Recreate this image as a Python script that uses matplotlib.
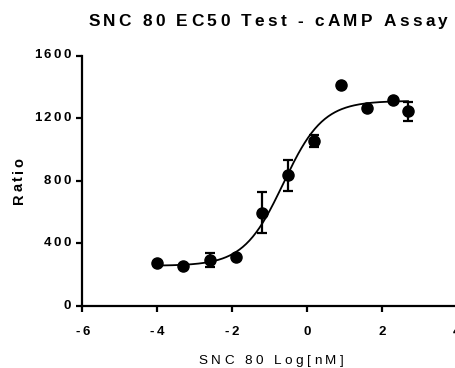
import matplotlib
matplotlib.use('Agg')
import matplotlib.pyplot as plt
import numpy as np
from matplotlib.font_manager import FontProperties
from matplotlib.transforms import IdentityTransform

# data
log_conc = [-4.0, -3.3, -2.6, -1.9, -1.2, -0.5, 0.2, 0.9, 1.6, 2.3, 2.7]
ratio = [274, 253, 292, 314, 596, 835, 1056, 1409, 1264, 1317, 1242]
ratio_err = [0, 0, 47, 0, 129, 99, 38, 0, 0, 0, 58]

# 4PL fit parameters (estimated from the drawn curve)
fit_bottom = 255
fit_top = 1310
fit_logec50 = -0.63
fit_hill = 0.82

x_ticks = [-6, -4, -2, 0, 2, 4]
y_ticks = [0, 400, 800, 1200, 1600]
title = 'SNC 80 EC50 Test - cAMP Assay'
x_label = 'SNC 80 Log[nM]'
y_label = 'Ratio'

W, H = 455, 368
fig = plt.figure(figsize=(W / 100, H / 100), dpi=100)
ax = fig.add_axes([82.3 / W, 62.3 / H, 374.4 / W, 250.2 / H])

xs = np.linspace(log_conc[0], log_conc[-1], 300)
fit = fit_bottom + (fit_top - fit_bottom) / (1 + 10 ** ((fit_logec50 - xs) * fit_hill))
ax.plot(xs, fit, color='black', lw=1.3, zorder=2)
ax.errorbar(log_conc, ratio, yerr=ratio_err, fmt='o', color='black', ms=8,
            elinewidth=1.6, capsize=3.5, capthick=1.6, zorder=3)

ax.set_xlim(-6, 4)
ax.set_ylim(0, 1600)
ax.set_xticks(x_ticks)
ax.set_yticks(y_ticks)
ax.tick_params(labelbottom=False, labelleft=False, direction='out', length=4, width=1.6)
for side in ['top', 'right']:
    ax.spines[side].set_visible(False)
for side in ['left', 'bottom']:
    ax.spines[side].set_linewidth(1.6)


# prism-style letter spaced text, one glyph at a time (pixel coords)
def spaced(x, y, s, size, track, weight='bold', ha='center', va='baseline', rot=0):
    fp = FontProperties(family='Liberation Sans', size=size, weight=weight)
    rend = fig.canvas.get_renderer()
    wd = lambda t: rend.get_text_width_height_descent(t, fp, ismath=False)[0]
    adv = [wd('H' + c + 'H') - wd('HH') for c in s]
    total = sum(adv) + track * (len(s) - 1)
    pos = -{'left': 0, 'center': total / 2, 'right': total}[ha]
    for c, a in zip(s, adv):
        xy = (x + pos, y) if rot == 0 else (x, y + pos)
        fig.text(xy[0], xy[1], c, fontproperties=fp, ha='left', va=va, rotation=rot,
                 rotation_mode='anchor', transform=IdentityTransform())
        pos += a + track


spaced(268, H - 26, title, 12.4, 3.3)
for t in x_ticks:
    px = ax.transData.transform((t, 0))[0]
    spaced(px, H - 335, str(t), 9.5, 2.6)
for t in y_ticks:
    py = ax.transData.transform((0, t))[1]
    spaced(71, py, str(t), 9.5, 2.6, ha='right', va='center')
spaced(271, H - 364, x_label, 9.7, 3.5, weight='normal')
spaced(23, H - 181, y_label, 10.5, 2.6, rot=90)

fig.savefig('out.png', dpi=100)
